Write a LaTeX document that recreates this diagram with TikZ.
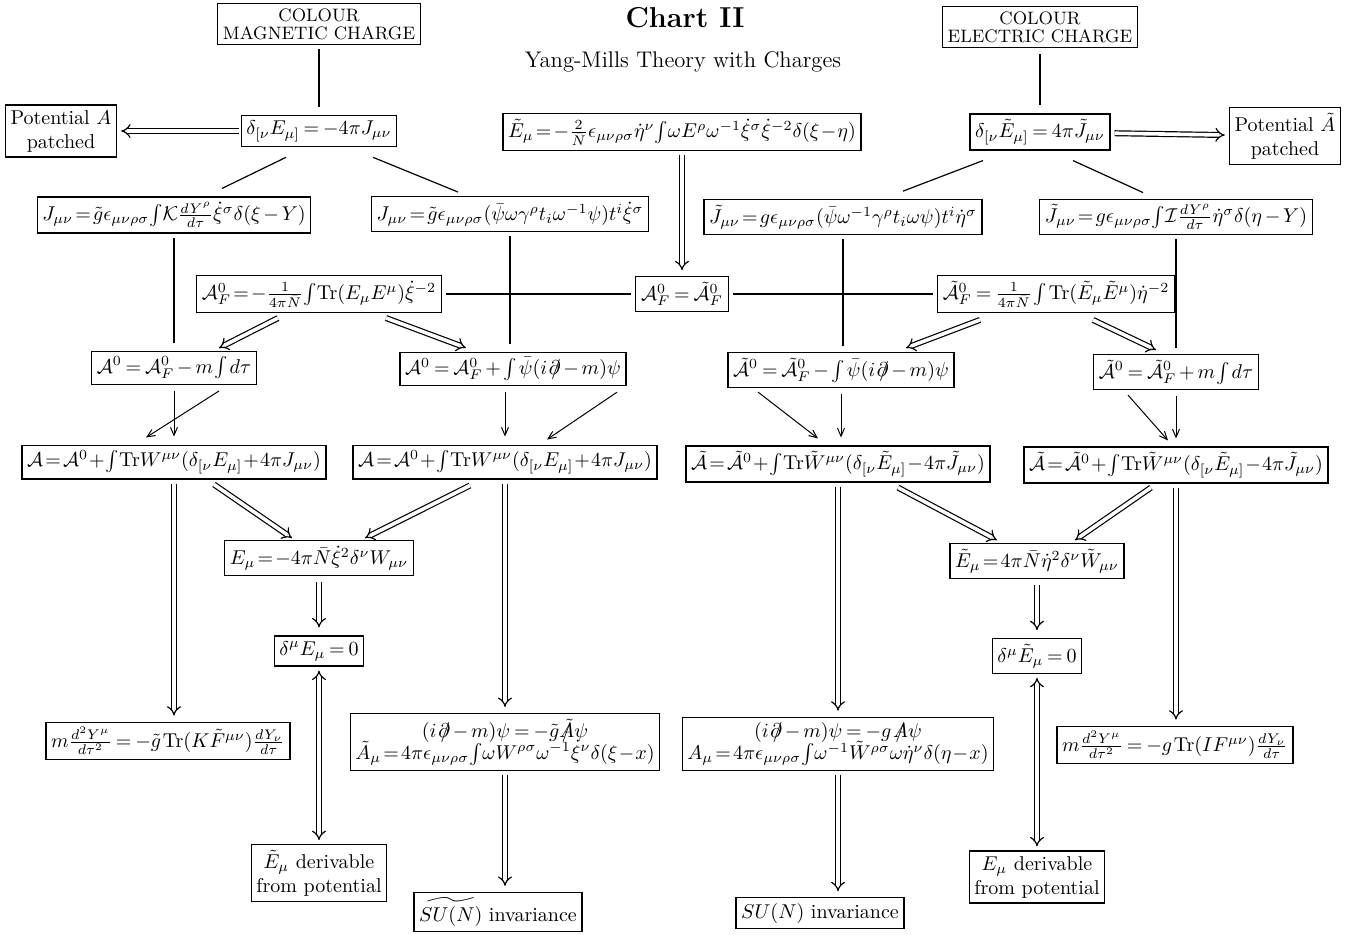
\documentclass[tikz,border=0pt]{standalone}
\usepackage{amsmath,amssymb}
\usepackage{tikz}
\usetikzlibrary{calc,arrows.meta}
\tikzset{
  box/.style={draw, line width=0.6pt, inner sep=2.6pt, fill=white, align=center,
    execute at begin node={\thinmuskip=1.5mu\medmuskip=2.5mu plus 1mu\thickmuskip=3.5mu plus 2mu}},
  ln/.style={line width=0.6pt},
  arr/.style={line width=0.5pt, -{Straight Barb[length=4pt,width=3.5pt]}},
  dbl/.style={double, double distance=1.8pt, line width=0.6pt, -{Implies}},
  dblboth/.style={double, double distance=1.8pt, line width=0.6pt, {Implies}-{Implies}},
}
\newcommand{\cA}{\mathcal{A}}
\newcommand{\tcA}{\tilde{\mathcal{A}}}
\newcommand{\slsh}[1]{{\rlap{$\mkern2mu/$}#1}}
\newcommand{\pslash}{\slsh{\partial}}

\begin{document}
\begin{tikzpicture}[x=0.5pt, y=-0.5pt]
  \useasboundingbox (0,0) rectangle (1357,934);

  % headings
  \node (title) at (685,18) {\Large\bfseries Chart II};
  \node (subtitle) at (683,62) {\fontsize{11.3}{13}\selectfont Yang-Mills Theory with Charges};
  \node[box, font=\small] (cmc) at (319,24) {COLOUR\\[-2pt]MAGNETIC CHARGE};
  \node[box, font=\small] (cec) at (1040,27) {COLOUR\\[-2pt]ELECTRIC CHARGE};

  % row of field equations
  \node[box] (potA) at (61,131) {Potential $A$\\patched};
  \node[box] (dE) at (319,131) {$\delta_{[\nu}E_{\mu]} = -4\pi J_{\mu\nu}$};
  \node[box] (Et) at (682,132) {$\tilde E_\mu\!=\!-\frac{2}{\bar N}\epsilon_{\mu\nu\rho\sigma}\dot\eta^\nu\!\int\!\omega E^\rho\omega^{-1}\dot\xi^\sigma\dot\xi^{-2}\delta(\xi\!-\!\eta)$};
  \node[box] (dEt) at (1040,132) {$\delta_{[\nu}\tilde E_{\mu]} = 4\pi\tilde J_{\mu\nu}$};
  \node[box] (potAt) at (1285,136) {Potential $\tilde A$\\patched};

  % currents
  \node[box] (J1) at (174,215) {$J_{\mu\nu}\!=\!\tilde g\epsilon_{\mu\nu\rho\sigma}\!\int\!\mathcal{K}\frac{dY^\rho}{d\tau}\dot\xi^\sigma\delta(\xi-Y)$};
  \node[box] (J2) at (510,214) {$J_{\mu\nu}\!=\!\tilde g\epsilon_{\mu\nu\rho\sigma}(\bar\psi\omega\gamma^\rho t_i\omega^{-1}\psi)t^i\dot\xi^\sigma$};
  \node[box] (Jt1) at (843,217) {$\tilde J_{\mu\nu}\!=\!g\epsilon_{\mu\nu\rho\sigma}(\bar\psi\omega^{-1}\gamma^\rho t_i\omega\psi)t^i\dot\eta^\sigma$};
  \node[box] (Jt2) at (1176,217) {$\tilde J_{\mu\nu}\!=\!g\epsilon_{\mu\nu\rho\sigma}\!\int\!\mathcal{I}\frac{dY^\rho}{d\tau}\dot\eta^\sigma\delta(\eta-Y)$};

  % free actions
  \node[box] (AF) at (319,294) {$\cA^0_F\!=\!-\frac{1}{4\pi\bar N}\!\int\!\mathrm{Tr}(E_\mu E^\mu)\dot\xi^{-2}$};
  \node[box] (AFeq) at (682,294) {$\cA^0_F = \tcA^0_F$};
  \node[box] (AFt) at (1056,294) {$\tcA^0_F = \frac{1}{4\pi\bar N}\int\mathrm{Tr}(\tilde E_\mu\tilde E^\mu)\dot\eta^{-2}$};

  \node[box] (A01) at (174,368) {$\cA^0 = \cA^0_F - m\int d\tau$};
  \node[box] (A02) at (513,369) {$\cA^0 = \cA^0_F + \int\bar\psi(i\,\pslash - m)\psi$};
  \node[box] (At01) at (841,370) {$\tcA^0 = \tcA^0_F - \int\bar\psi(i\,\pslash - m)\psi$};
  \node[box] (At02) at (1176,372) {$\tcA^0 = \tcA^0_F + m\int d\tau$};

  \node[box] (A1) at (174,462) {$\cA\!=\!\cA^0\!+\!\int\!\mathrm{Tr}W^{\mu\nu}(\delta_{[\nu}E_{\mu]}\!+\!4\pi J_{\mu\nu})$};
  \node[box] (A2) at (505,462) {$\cA\!=\!\cA^0\!+\!\int\!\mathrm{Tr}W^{\mu\nu}(\delta_{[\nu}E_{\mu]}\!+\!4\pi J_{\mu\nu})$};
  \node[box] (At1) at (838,464) {$\tcA\!=\!\tcA^0\!+\!\int\!\mathrm{Tr}\tilde W^{\mu\nu}(\delta_{[\nu}\tilde E_{\mu]}\!-\!4\pi\tilde J_{\mu\nu})$};
  \node[box] (At2) at (1176,465) {$\tcA\!=\!\tcA^0\!+\!\int\!\mathrm{Tr}\tilde W^{\mu\nu}(\delta_{[\nu}\tilde E_{\mu]}\!-\!4\pi\tilde J_{\mu\nu})$};

  % fields and divergences
  \node[box] (E) at (319,558) {$E_\mu\!=\!-4\pi\bar N\dot\xi^2\delta^\nu W_{\mu\nu}$};
  \node[box] (Et2) at (1037,561) {$\tilde E_\mu\!=\!4\pi\bar N\dot\eta^2\delta^\nu\tilde W_{\mu\nu}$};
  \node[box] (divE) at (319,651) {$\delta^\mu E_\mu = 0$};
  \node[box] (divEt) at (1037,656) {$\delta^\mu\tilde E_\mu = 0$};

  % equations of motion
  \node[box] (eqK) at (168,741) {$m\frac{d^2Y^\mu}{d\tau^2} = -\tilde g\,\mathrm{Tr}(K\tilde F^{\mu\nu})\frac{dY_\nu}{d\tau}$};
  \node[box] (eqDirac) at (505,742) {$(i\,\pslash - m)\psi = -\tilde g\slsh{\tilde A}\psi$\\[-1pt]
    $\tilde A_\mu\!=\!4\pi\epsilon_{\mu\nu\rho\sigma}\!\int\!\omega W^{\rho\sigma}\omega^{-1}\dot\xi^\nu\delta(\xi\!-\!x)$};
  \node[box] (eqDiract) at (838,744) {$(i\,\pslash - m)\psi = -g\,\slsh{A}\psi$\\[-1pt]
    $A_\mu\!=\!4\pi\epsilon_{\mu\nu\rho\sigma}\!\int\!\omega^{-1}\tilde W^{\rho\sigma}\omega\dot\eta^\nu\delta(\eta\!-\!x)$};
  \node[box] (eqI) at (1175,745) {$m\frac{d^2Y^\mu}{d\tau^2} = -g\,\mathrm{Tr}(IF^{\mu\nu})\frac{dY_\nu}{d\tau}$};

  % conclusions
  \node[box] (derivt) at (319,873) {$\tilde E_\mu$ derivable\\from potential};
  \node[box] (SUt) at (498,912) {$\widetilde{SU(N)}$ invariance};
  \node[box] (deriv) at (1037,877) {$E_\mu$ derivable\\from potential};
  \node[box] (SU) at (820,913) {$SU(N)$ invariance};

  % top connections
  \draw[ln, shorten <=2pt, shorten >=4pt] (cmc) -- (dE);
  \draw[ln, shorten <=3pt, shorten >=4pt] (cec) -- (dEt);
  \draw[dbl, shorten <=1pt, shorten >=2pt] (dE) -- (potA);
  \draw[dbl, shorten <=2pt, shorten >=2pt] (dEt) -- (potAt);
  \draw[ln] ($(dE.south)+(-33,10)$) -- ($(J1.north)+(48,-8)$);
  \draw[ln] ($(dE.south)+(54,10)$) -- ($(J2.north)+(-52,-4)$);
  \draw[ln] ($(dEt.south)+(-57,10)$) -- ($(Jt1.north)+(60,-8)$);
  \draw[ln] ($(dEt.south)+(33,10)$) -- ($(Jt2.north)+(-33,-6)$);
  \draw[dbl, shorten <=2pt, shorten >=3pt] (Et) -- (AFeq);

  % currents into the actions
  \draw[ln, shorten <=2pt, shorten >=4pt] (J1.south) -- (J1.south |- A01.north);
  \draw[ln, shorten <=2pt, shorten >=4pt] (J2.south) -- (J2.south |- A02.north);
  \draw[ln, shorten <=2pt, shorten >=3pt] (Jt1.south) -- (Jt1.south |- At01.north);
  \draw[ln, shorten <=2pt, shorten >=3pt] (Jt2.south) -- (Jt2.south |- At02.north);
  \draw[ln, shorten <=2pt, shorten >=2pt] (AF) -- (AFeq);
  \draw[ln, shorten <=2pt, shorten >=2pt] (AFeq) -- (AFt);

  % free actions to the actions
  \draw[dbl] ($(AF.south)+(-41,5)$) -- ($(A01.north)+(45,-3)$);
  \draw[dbl] ($(AF.south)+(67,5)$) -- ($(A02.north)+(-47,-4)$);
  \draw[dbl] ($(AFt.south)+(-76,7)$) -- ($(At01.north)+(65,-4)$);
  \draw[dbl] ($(AFt.south)+(37,7)$) -- ($(At02.north)+(-20,-4)$);

  \draw[arr, shorten <=3pt, shorten >=4pt] (A01.south) -- (A01.south |- A1.north);
  \draw[arr] ($(A01.south)+(45,6)$) -- ($(A1.north)+(-28,-7)$);
  \draw[arr, shorten <=3pt, shorten >=4pt] (A2.north |- A02.south) -- (A2.north);
  \draw[arr] ($(A02.south)+(104,6)$) -- ($(A2.north)+(42,-5)$);
  \draw[arr] ($(At01.south)+(-83,4)$) -- ($(At1.north)+(-20,-7)$);
  \draw[arr, shorten <=3pt, shorten >=4pt] (At01.south) -- (At01.south |- At1.north);
  \draw[arr] ($(At02.south)+(-48,5)$) -- ($(At2.north)+(-8,-6)$);
  \draw[arr, shorten <=3pt, shorten >=4pt] (At02.south) -- (At02.south |- At2.north);

  % actions to fields and equations of motion
  \draw[dbl] ($(A1.south)+(40,5)$) -- ($(E.north)+(-27,-2)$);
  \draw[dbl] ($(A2.south)+(-35,6)$) -- ($(E.north)+(46,-2)$);
  \draw[dbl] ($(At1.south)+(60,5)$) -- ($(Et2.north)+(-40,-3)$);
  \draw[dbl] ($(At2.south)+(-25,4)$) -- ($(Et2.north)+(38,-3)$);
  \draw[dbl, shorten <=3pt, shorten >=4pt] (E) -- (divE);
  \draw[dbl, shorten <=3pt, shorten >=4pt] (Et2) -- (divEt);
  \draw[dblboth, shorten <=2pt, shorten >=2pt] (divE) -- (derivt);
  \draw[dblboth, shorten <=2pt, shorten >=2pt] (divEt) -- (deriv);
  \draw[dbl, shorten <=2pt, shorten >=3pt] (A1.south) -- (A1.south |- eqK.north);
  \draw[dbl, shorten <=2pt, shorten >=3pt] (A2) -- (eqDirac);
  \draw[dbl, shorten <=2pt, shorten >=3pt] (At1) -- (eqDiract);
  \draw[dbl, shorten <=2pt, shorten >=3pt] (At2.south) -- (At2.south |- eqI.north);
  \draw[dbl, shorten <=2pt, shorten >=3pt] (eqDirac.south) -- (eqDirac.south |- SUt.north);
  \draw[dbl, shorten <=2pt, shorten >=3pt] (eqDiract.south) -- (eqDiract.south |- SU.north);
\end{tikzpicture}
\end{document}
